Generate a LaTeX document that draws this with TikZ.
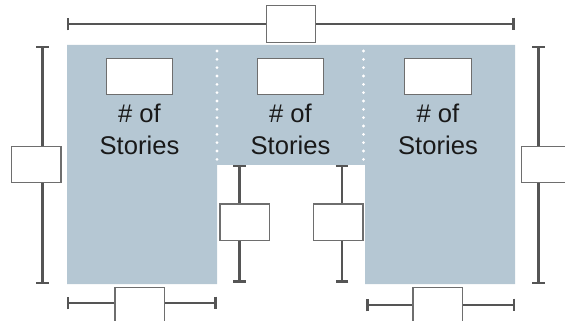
\documentclass[tikz,border=0pt]{standalone}
\usepackage{fontspec}
\setmainfont{Liberation Sans}
\usetikzlibrary{arrows.meta}
\definecolor{slab}{HTML}{B5C7D3}
\definecolor{dimline}{HTML}{555555}
\definecolor{boxline}{HTML}{6E6E6E}
\tikzset{
  x=0.75pt,y=-0.75pt,
  inputbox/.style={draw=boxline,fill=white,line width=0.95pt,inner sep=0pt,minimum width=37pt,minimum height=27.5pt},
  roofbox/.style={inputbox,minimum width=50pt},
  dimension/.style={draw=dimline,line width=1.7pt,-{Bar[width=9.5pt,line width=2pt,length=0pt]}},
  storylabel/.style={align=center,font=\fontsize{19.2}{24}\selectfont,text=black!90,inner sep=0pt,anchor=north},
  divider/.style={draw=white,line width=2.3pt,line cap=round,dash pattern=on 0pt off 6.25pt}
}
\begin{document}
\begin{tikzpicture}
\useasboundingbox (0,0) rectangle (565,321);
\fill[slab] (67,45) -- (515,45) -- (515,284) -- (365,284) -- (365,165) -- (217,165) -- (217,284) -- (67,284) -- cycle;
\coordinate (d1a) at (217,51); \coordinate (d1b) at (217,165);
\coordinate (d2a) at (363.5,51); \coordinate (d2b) at (363.5,165);
\draw[divider] (d1a) -- (d1b);
\draw[divider] (d2a) -- (d2b);
% input boxes
\node[roofbox] (r1) at (139.5,76.5) {};
\node[roofbox] (r2) at (290.5,76.5) {};
\node[roofbox] (r3) at (438,76.5) {};
\node[inputbox] (top) at (290.8,24) {};
\node[inputbox] (left) at (36.2,164.5) {};
\node[inputbox] (right) at (546,164.5) {};
\node[inputbox] (in1) at (244.7,222.3) {};
\node[inputbox] (in2) at (338.2,222.3) {};
\node[inputbox] (bot1) at (139.7,305.5) {};
\node[inputbox] (bot2) at (437.7,305.5) {};
% labels
\node[storylabel] (s1) at (139.5,103.5) {\# of\\Stories};
\node[storylabel] (s2) at (290.5,103.5) {\# of\\Stories};
\node[storylabel] (s3) at (438,103.5) {\# of\\Stories};
% free ends
\coordinate (topL) at (66.7,24); \coordinate (topR) at (515,24);
\coordinate (leftT) at (42.5,45.8); \coordinate (leftB) at (42.5,284.2);
\coordinate (rightT) at (538.5,45.8); \coordinate (rightB) at (538.5,284.2);
\coordinate (in1T) at (239.5,164.8); \coordinate (in1B) at (239.5,282.7);
\coordinate (in2T) at (342,164.8); \coordinate (in2B) at (342,282.7);
\coordinate (bot1L) at (66.7,303); \coordinate (bot1R) at (216.7,303);
\coordinate (bot2L) at (366.3,305); \coordinate (bot2R) at (515.2,305);
% connectors
\draw[dimension] (top.west) -- (topL);
\draw[dimension] (top.east) -- (topR);
\draw[dimension] (left.north -| leftT) -- (leftT);
\draw[dimension] (left.south -| leftB) -- (leftB);
\draw[dimension] (right.north -| rightT) -- (rightT);
\draw[dimension] (right.south -| rightB) -- (rightB);
\draw[dimension] (in1.north -| in1T) -- (in1T);
\draw[dimension] (in1.south -| in1B) -- (in1B);
\draw[dimension] (in2.north -| in2T) -- (in2T);
\draw[dimension] (in2.south -| in2B) -- (in2B);
\draw[dimension] (bot1.west |- bot1L) -- (bot1L);
\draw[dimension] (bot1.east |- bot1R) -- (bot1R);
\draw[dimension] (bot2.west |- bot2L) -- (bot2L);
\draw[dimension] (bot2.east |- bot2R) -- (bot2R);
\end{tikzpicture}
\end{document}
